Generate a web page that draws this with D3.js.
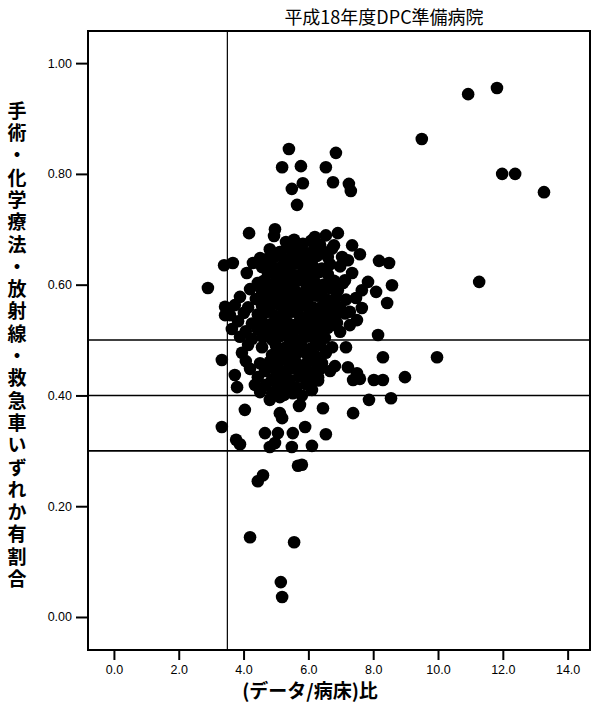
<!DOCTYPE html>
<html><head><meta charset="utf-8">
<script src="https://cdn.jsdelivr.net/npm/d3@7"></script>
<style>body{margin:0;background:#fff}</style>
</head><body><svg id="c" width="592" height="706"></svg>
<script>
const title = "平成18年度DPC準備病院";
const xLabel = "(データ/病床)比";
const yLabel = "手術・化学療法・放射線・救急車いずれか有割合";
const xTicks = [0,2,4,6,8,10,12,14];
const yTicks = [0,0.2,0.4,0.6,0.8,1.0];
const refX = [3.5];
const refY = [0.3,0.4,0.5];

const outliers = [[9.50,0.863],[10.93,0.944],[11.82,0.955],[11.98,0.800],[12.38,0.800],[13.27,0.767],[11.27,0.605],[9.97,0.469]];

const upper = [[5.40,0.845],[6.85,0.838],[5.19,0.812],[5.77,0.814],[6.54,0.812],[5.83,0.783],[5.49,0.773],[6.76,0.785],[7.25,0.782],[7.31,0.769],[5.65,0.744],
[4.17,0.693],[4.97,0.700],[4.94,0.688],[5.15,0.659],[5.65,0.673],[6.20,0.686],[6.54,0.689],[6.91,0.693],[6.79,0.671],[7.35,0.671],[7.59,0.655],[8.18,0.643],[8.49,0.639],[8.58,0.599],[8.09,0.587],[8.43,0.567],[2.90,0.594],[3.40,0.635],[3.67,0.639],[4.51,0.648],[4.29,0.639],[4.10,0.621],[7.84,0.605],[7.65,0.558],[7.50,0.536],[6.82,0.527],[7.22,0.644],[7.04,0.650],[6.60,0.650],[7.35,0.621],[7.13,0.608],[7.47,0.576],[7.28,0.551],[7.65,0.590]];

const right = [[8.15,0.509],[7.16,0.487],[8.30,0.469],[7.22,0.451],[7.50,0.440],[7.38,0.428],[7.59,0.430],[8.02,0.428],[8.30,0.428],[8.98,0.433],[8.55,0.395],[7.87,0.392],[6.88,0.531],[7.28,0.527],[6.11,0.410],[5.74,0.383],[6.45,0.377],[7.38,0.368],[5.90,0.343],[6.82,0.453],[6.30,0.433]];

const lower = [[3.33,0.464],[3.33,0.343],[3.43,0.560],[3.43,0.545],[3.73,0.437],[3.80,0.415],[4.35,0.419],[4.51,0.406],[4.81,0.392],[5.12,0.397],[4.04,0.374],[5.12,0.368],[5.19,0.359],[5.71,0.381],[3.77,0.320],[3.89,0.312],[4.66,0.332],[5.06,0.332],[5.52,0.332],[6.54,0.330],[4.81,0.307],[4.97,0.314],[5.49,0.307],[6.11,0.309],[5.68,0.273],[5.80,0.275],[4.60,0.256],[4.44,0.245],[4.20,0.144],[5.56,0.135],[5.15,0.063],[5.19,0.036]];

const core = [
[5.31,0.677],[5.56,0.681],[5.83,0.674],[6.08,0.679],[6.36,0.672],
[4.81,0.664],[5.12,0.659],[5.40,0.666],[5.68,0.661],[5.93,0.657],[6.17,0.663],[6.45,0.660],[6.73,0.665],
[4.69,0.646],[4.97,0.651],[5.25,0.645],[5.49,0.650],[5.74,0.644],[6.02,0.649],[6.27,0.652],
[4.57,0.632],[4.85,0.636],[5.09,0.630],[5.37,0.635],[5.62,0.638],[5.90,0.631],[6.14,0.634],[6.42,0.629],[6.67,0.637],[6.98,0.633],
[4.75,0.621],[5.00,0.617],[5.28,0.622],[5.52,0.618],[5.80,0.620],[6.05,0.616],[6.33,0.623],[6.60,0.619],
[4.44,0.603],[4.63,0.607],[4.88,0.601],[5.15,0.606],[5.40,0.604],[5.68,0.608],[5.93,0.602],[6.20,0.605],[6.48,0.600],[6.79,0.607],[7.07,0.603],
[4.20,0.592],[4.57,0.588],[4.81,0.591],[5.09,0.587],[5.34,0.593],[5.59,0.589],[5.86,0.586],[6.14,0.591],[6.39,0.588],[6.67,0.594],[6.91,0.590],
[3.89,0.578],[4.38,0.574],[4.69,0.577],[4.94,0.573],[5.22,0.579],[5.46,0.575],[5.74,0.572],[5.99,0.576],[6.27,0.580],[6.54,0.574],[6.85,0.577],[7.16,0.573],
[3.73,0.563],[4.14,0.559],[4.57,0.562],[4.81,0.558],[5.09,0.564],[5.34,0.560],[5.62,0.557],[5.86,0.563],[6.14,0.559],[6.42,0.561],[6.70,0.565],[6.98,0.558],
[3.58,0.545],[4.01,0.549],[4.44,0.546],[4.69,0.550],[4.97,0.544],[5.22,0.548],[5.49,0.551],[5.74,0.543],[6.02,0.547],[6.30,0.545],[6.57,0.549],[6.85,0.546],[7.13,0.548],
[3.83,0.534],[4.26,0.530],[4.57,0.533],[4.85,0.529],[5.09,0.535],[5.37,0.531],[5.62,0.528],[5.90,0.534],[6.17,0.530],[6.45,0.536],[6.73,0.532],
[3.64,0.520],[4.07,0.516],[4.44,0.519],[4.72,0.515],[4.97,0.521],[5.25,0.517],[5.49,0.514],[5.77,0.520],[6.05,0.516],[6.33,0.518],[6.60,0.522],[6.98,0.515],
[3.89,0.506],[4.26,0.502],[4.60,0.505],[4.88,0.501],[5.12,0.507],[5.40,0.503],[5.65,0.500],[5.93,0.506],[6.20,0.502],[6.51,0.504],
[4.14,0.491],[4.57,0.487],[5.00,0.490],[5.28,0.486],[5.52,0.492],[5.80,0.488],[6.08,0.485],[6.36,0.491],[6.73,0.487],
[3.95,0.477],[4.88,0.473],[5.15,0.476],[5.40,0.472],[5.68,0.478],[5.96,0.474],[6.23,0.471],[6.54,0.477],
[4.07,0.462],[4.51,0.458],[4.81,0.461],[5.06,0.457],[5.34,0.463],[5.62,0.459],[5.90,0.456],[6.17,0.462],[6.42,0.458],
[4.20,0.448],[4.66,0.444],[4.97,0.447],[5.25,0.443],[5.52,0.449],[5.80,0.445],[6.08,0.442],[6.36,0.448],[6.67,0.444],
[4.44,0.433],[4.88,0.429],[5.15,0.432],[5.43,0.428],[5.71,0.434],[6.02,0.430],[6.30,0.427],
[4.69,0.419],[5.06,0.415],[5.34,0.418],[5.62,0.414],[5.93,0.420],
[4.88,0.405],[5.25,0.401],[5.52,0.404],[5.80,0.400]
];

const points = [].concat(core, upper, right, lower, outliers);

const W = 592, H = 706;
const L = 88, R = 590, T = 31, B = 650;
const svg = d3.select("#c");
svg.append("rect").attr("width",W).attr("height",H).attr("fill","#fff");

const x = d3.scaleLinear().domain([-0.80,14.69]).range([L,R]);
const y = d3.scaleLinear().domain([-0.0596,1.058]).range([B,T]);

const sans = "'Liberation Sans', Arial, sans-serif";
const cjk = "'Noto Sans CJK JP', 'Noto Sans', sans-serif";

// reference lines
svg.append("g").selectAll("line").data(refY).join("line")
  .attr("x1",L).attr("x2",R).attr("y1",d=>y(d)).attr("y2",d=>y(d))
  .attr("stroke","#000").attr("stroke-width",1.6);
svg.append("g").selectAll("line").data(refX).join("line")
  .attr("x1",d=>x(d)).attr("x2",d=>x(d)).attr("y1",T).attr("y2",B)
  .attr("stroke","#000").attr("stroke-width",1.2);

// dots
svg.append("g").selectAll("circle").data(points).join("circle")
  .attr("cx",d=>x(d[0])).attr("cy",d=>y(d[1])).attr("r",6.3).attr("fill","#000");

// frame
svg.append("rect").attr("x",L).attr("y",T).attr("width",R-L).attr("height",B-T)
  .attr("fill","none").attr("stroke","#000").attr("stroke-width",2);

// axes
const yAxis = svg.append("g").attr("transform",`translate(${L},0)`)
  .call(d3.axisLeft(y).tickValues(yTicks).tickFormat(d3.format(".2f")).tickSize(12).tickPadding(4));
const xAxis = svg.append("g").attr("transform",`translate(0,${B})`)
  .call(d3.axisBottom(x).tickValues(xTicks).tickFormat(d3.format(".1f")).tickSize(10).tickPadding(5));
[yAxis,xAxis].forEach(g=>{
  g.select(".domain").remove();
  g.selectAll(".tick line").attr("stroke","#000").attr("stroke-width",2);
  g.selectAll(".tick text").attr("fill","#000").attr("font-family",sans).attr("font-size",12.5);
});

// title
svg.append("text").attr("x",384).attr("y",24).attr("text-anchor","middle")
  .attr("font-family",cjk).attr("font-size",18).attr("fill","#000").text(title);

// x label
svg.append("text").attr("x",310).attr("y",698).attr("text-anchor","middle")
  .attr("font-family",cjk).attr("font-weight","bold").attr("font-size",19).attr("fill","#000").text(xLabel);

// y label (single vertical text)
svg.append("text")
  .attr("x",17).attr("y",101)
  .attr("writing-mode","vertical-rl")
  .style("text-orientation","upright")
  .attr("letter-spacing",3.3)
  .attr("font-family",cjk).attr("font-weight","bold").attr("font-size",19).attr("fill","#000")
  .text(yLabel);
</script></body></html>
